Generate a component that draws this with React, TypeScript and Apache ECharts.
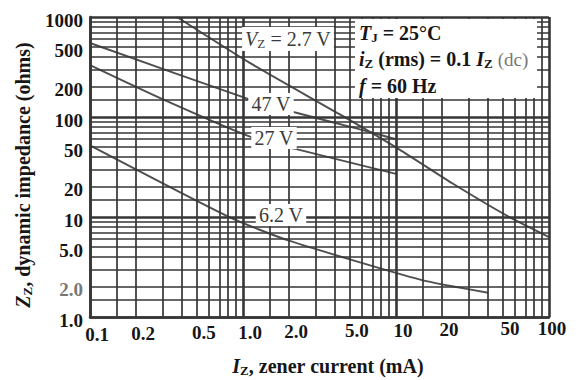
import React, { useEffect, useRef } from "react";
import * as echarts from "echarts";

// Tick labels
const xTickValues = [0.1, 0.2, 0.5, 1, 2, 5, 10, 20, 50, 100];
const xTickLabels = ["0.1", "0.2", "0.5", "1.0", "2.0", "5.0", "10", "20", "50", "100"];
const yTickValues = [1, 2, 5, 10, 20, 50, 100, 200, 500, 1000];
const yTickLabels = ["1.0", "2.0", "5.0", "10", "20", "50", "100", "200", "500", "1000"];

// Log-paper grid lines
const xGridValues = [
  0.1, 0.15, 0.2, 0.3, 0.4, 0.5, 0.6, 0.7, 0.8, 0.9,
  1, 1.5, 2, 3, 4, 5, 6, 7, 8, 9,
  10, 15, 20, 30, 40, 50, 60, 70, 80, 90, 100,
];
const yGridValues = [
  1, 1.5, 2, 3, 4, 5, 6, 7, 8, 9,
  10, 15, 20, 30, 40, 50, 60, 70, 80, 90,
  100, 150, 200, 300, 400, 500, 600, 700, 800, 900, 1000,
];
const majorX = [0.1, 1, 10, 100];
const majorY = [1, 10, 100, 1000];

// Curves: I_Z (mA) vs Z_Z (ohms)
const current2V7 = [0.37, 1.1, 4.3, 10.6, 23.6, 55.6, 100];
const impedance2V7 = [1000, 350, 106, 47, 21.5, 9.9, 6.3];

const current47V = [0.1, 1.1, 2.2, 5.5, 10];
const impedance47V = [550, 150, 111, 77, 60];

const current27V = [0.1, 0.3, 1.1, 2.2, 10];
const impedance27V = [330, 150, 64, 48, 27];

const current6V2 = [0.1, 0.8, 2, 14.6, 40];
const impedance6V2 = [52, 10.1, 5.8, 2.35, 1.75];

const SERIF = '"Liberation Serif", "DejaVu Serif", serif';

export default function App() {
  const ref = useRef<HTMLDivElement>(null);

  useEffect(() => {
    if (!ref.current) return;
    const chart = echarts.init(ref.current, null, { renderer: "svg" });
    const gridColor = "#363636";
    const curveColor = "#505050";

    const gridLineData: any[] = [
      ...xGridValues.map((v) => ({
        xAxis: v,
        lineStyle: { width: majorX.includes(v) ? 2.6 : 1.7 },
      })),
      ...yGridValues.map((v) => ({
        yAxis: v,
        lineStyle: { width: majorY.includes(v) ? 2.6 : 1.7 },
      })),
    ];

    const curve = (name: string, xs: number[], ys: number[]) => ({
      type: "line",
      name,
      data: xs.map((x, i) => [x, ys[i]]),
      symbol: "none",
      showSymbol: false,
      smooth: 0.2,
      silent: true,
      z: 3,
      lineStyle: { color: curveColor, width: 2 },
    });

    const option: any = {
      animation: false,
      backgroundColor: "#ffffff",
      grid: { left: 90, right: 32, top: 17, bottom: 63, containLabel: false },
      xAxis: {
        type: "log",
        logBase: 10,
        min: 0.1,
        max: 100,
        axisLine: { show: true, lineStyle: { color: gridColor, width: 2.6 } },
        axisTick: { show: false },
        axisLabel: { show: false },
        splitLine: { show: false },
      },
      yAxis: {
        type: "log",
        logBase: 10,
        min: 1,
        max: 1000,
        axisLine: { show: true, lineStyle: { color: gridColor, width: 2.6 } },
        axisTick: { show: false },
        axisLabel: { show: false },
        splitLine: { show: false },
      },
      series: [
        {
          type: "line",
          name: "grid",
          data: [],
          silent: true,
          z: 1,
          markLine: {
            silent: true,
            symbol: ["none", "none"],
            label: { show: false },
            emphasis: { disabled: true },
            lineStyle: { color: gridColor, type: "solid", width: 1.7 },
            data: gridLineData,
          },
        },
        curve("2.7 V", current2V7, impedance2V7),
        curve("47 V", current47V, impedance47V),
        curve("27 V", current27V, impedance27V),
        curve("6.2 V", current6V2, impedance6V2),
      ],
    };
    chart.setOption(option);

    const gx = (v: number) => chart.convertToPixel({ xAxisIndex: 0 }, v) as number;
    const gy = (v: number) => chart.convertToPixel({ yAxisIndex: 0 }, v) as number;

    const bold = (size: number) => `bold ${size}px ${SERIF}`;
    const boldItalic = (size: number) => `italic bold ${size}px ${SERIF}`;
    const reg = (size: number) => `${size}px ${SERIF}`;
    const regItalic = (size: number) => `italic ${size}px ${SERIF}`;

    const graphics: any[] = [];

    // Y tick labels
    const left = gx(0.1);
    yTickValues.forEach((v, i) => {
      graphics.push({
        type: "text",
        z: 20,
        x: left - 7,
        y: gy(v) + 3,
        style: {
          text: yTickLabels[i],
          font: bold(19),
          fill: yTickLabels[i] === "2.0" ? "#777" : "#161616",
          align: "right",
          verticalAlign: "middle",
        },
      });
    });

    // X tick labels
    const bottom = gy(1);
    xTickValues.forEach((v, i) => {
      const last = i === xTickValues.length - 1;
      graphics.push({
        type: "text",
        z: 20,
        x: gx(v) + (last ? 3 : 7),
        y: bottom + 17 - (i * 6) / (xTickValues.length - 1),
        style: {
          text: xTickLabels[i],
          font: bold(19),
          fill: "#161616",
          align: "center",
          verticalAlign: "middle",
        },
      });
    });

    // Axis names
    const subRich = {
      i: { font: boldItalic(20), fill: "#161616" },
      s: { font: bold(13), fill: "#161616", padding: [9, 0, 0, 0] },
    };
    graphics.push({
      type: "text",
      z: 20,
      x: 328,
      y: 366,
      style: {
        text: "{i|I}{s|Z}, zener current (mA)",
        font: bold(20),
        fill: "#161616",
        align: "center",
        verticalAlign: "middle",
        rich: subRich,
      },
    });
    graphics.push({
      type: "text",
      z: 20,
      x: 23,
      y: 175,
      rotation: Math.PI / 2,
      style: {
        text: "{i|Z}{s|Z}, dynamic impedance (ohms)",
        font: bold(20),
        fill: "#161616",
        align: "center",
        verticalAlign: "middle",
        rich: subRich,
      },
    });

    // Conditions box
    graphics.push({
      type: "rect",
      z: 10,
      shape: { x: 355, y: 19, width: 182, height: 79 },
      style: { fill: "#ffffff" },
    });
    const boxLines = [
      "{i|T}{s|J} = 25°C",
      "{i|i}{s|Z} (rms) = 0.1 {i|I}{s|Z} {g|(dc)}",
      "{i|f} = 60 Hz",
    ];
    const boxY = [33, 59, 86];
    boxLines.forEach((t, k) => {
      graphics.push({
        type: "text",
        z: 20,
        x: 359,
        y: boxY[k],
        style: {
          text: t,
          font: bold(20),
          fill: "#161616",
          align: "left",
          verticalAlign: "middle",
          rich: {
            i: { font: boldItalic(20), fill: "#161616" },
            s: { font: bold(13), fill: "#161616", padding: [9, 0, 0, 0] },
            g: { font: reg(19), fill: "#777" },
          },
        },
      });
    });

    // Curve labels
    const curveLabel = (text: string, x: number, y: number, rich?: any) => ({
      type: "text",
      z: 20,
      x,
      y,
      style: {
        text,
        font: reg(20),
        fill: "#3a3a3a",
        align: "center",
        verticalAlign: "middle",
        backgroundColor: "#ffffff",
        padding: [1, 3, 1, 3],
        rich,
      },
    });
    graphics.push(
      curveLabel("{i|V}{s|Z} = 2.7 V", 288, 39, {
        i: { font: regItalic(20), fill: "#3a3a3a" },
        s: { font: reg(13), fill: "#3a3a3a", padding: [9, 0, 0, 0] },
      })
    );
    graphics.push(curveLabel("47 V", 271, 104));
    graphics.push(curveLabel("27 V", 274, 138));
    graphics.push(curveLabel("6.2 V", 281, 215));

    chart.setOption({ graphic: graphics });

    return () => {
      chart.dispose();
    };
  }, []);

  return (
    <div
      ref={ref}
      style={{ position: "fixed", left: 0, top: 0, width: 581, height: 380, background: "#fff" }}
    />
  );
}
